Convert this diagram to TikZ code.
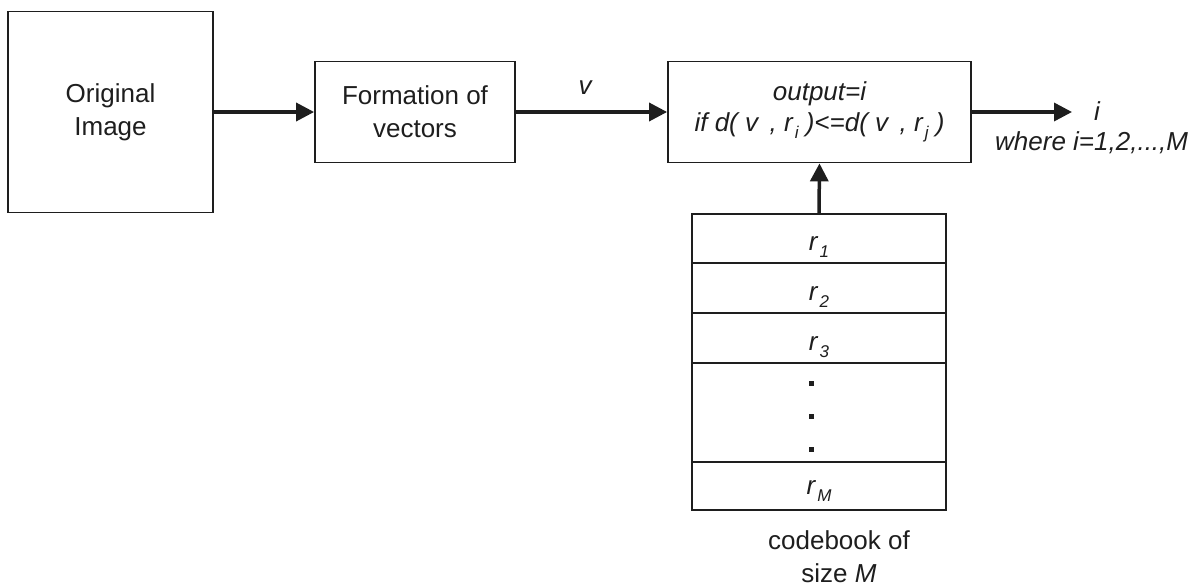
\documentclass[tikz,border=0pt]{standalone}
\usepackage{fontspec}
\setmainfont{Liberation Sans}
\usetikzlibrary{arrows.meta}
\definecolor{ink}{HTML}{1E1E1E}
% lowered, smaller index after a symbol
\newcommand{\lowidx}[1]{\hspace{2pt}\raisebox{-7pt}{\fontsize{17}{17}\selectfont #1}}

\begin{document}
\begin{tikzpicture}[x=1pt,y=-1pt,
  every node/.style={font=\fontsize{26}{33}\selectfont, text=ink, inner sep=0pt},
  block/.style={draw=ink, line width=1.8pt, align=center},
  flow/.style={draw=ink, line width=3.5pt, -{Triangle[length=18pt,width=18pt]}},
  divider/.style={draw=ink, line width=2.6pt},
  lbl/.style={font=\fontsize{26}{33}\selectfont\itshape},
]
\useasboundingbox (0,0) rectangle (1197,586);

% processing chain
\node[block, minimum width=205pt, minimum height=201pt] (orig) at (110.5,112) {Original\\Image};
\node[block, minimum width=200pt, minimum height=101pt] (form) at (415,112) {Formation of\\vectors};
\node[block, minimum width=303pt, minimum height=101pt, font=\fontsize{26}{31}\selectfont\itshape] (quant) at (819.5,112)
  {output=i\\if d( v\, , r\lowidx{i} )<=d( v\, , r\lowidx{j} )};
\coordinate (out) at (1072,112);

% codebook table
\node[block, minimum width=254pt, minimum height=296pt] (book) at (819,362) {};
\draw[divider] (692,263) -- (946,263);
\draw[divider] (692,313) -- (946,313);
\draw[divider] (692,363) -- (946,363);
\draw[divider] (692,462) -- (946,462);
\node[lbl, anchor=base] (r1) at (819,250) {r\lowidx{1}};
\node[lbl, anchor=base] (r2) at (819,300) {r\lowidx{2}};
\node[lbl, anchor=base] (r3) at (819,350) {r\lowidx{3}};
\node[lbl, anchor=base] (rM) at (819,494) {r\lowidx{M}};
\fill[ink] (808.5,380.5) rectangle +(5,5);
\fill[ink] (808.5,413.5) rectangle +(5,5);
\fill[ink] (808.5,446.5) rectangle +(5,5);
\node[align=center] (cap) at (839,557) {codebook of\\size \textit{M}};

% connectors
\draw[flow] (orig.east) -- (form.west);
\draw[flow] (form.east) -- (quant.west);
\draw[flow] (quant.east) -- (out);
\draw[flow] (book.north) -- (quant.south);

% signal labels
\node[lbl, anchor=base] (vlab) at (585,95) {v};
\node[lbl, anchor=base] (ilab) at (1097,120) {i};
\node[lbl, anchor=base west] (range) at (995,150) {where i=1,2,...,M};
\end{tikzpicture}
\end{document}
